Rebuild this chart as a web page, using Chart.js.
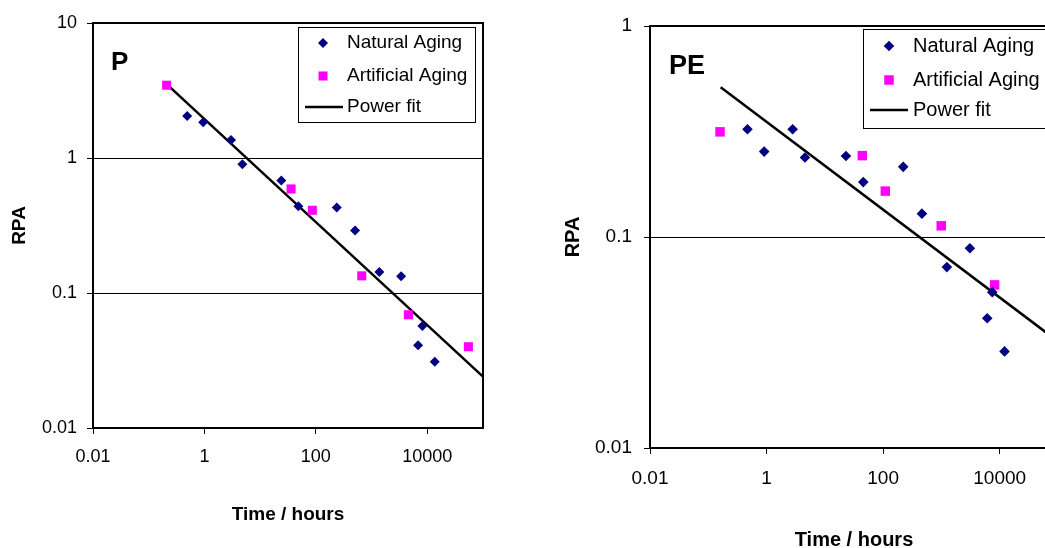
<!DOCTYPE html>
<html>
<head>
<meta charset="utf-8">
<script src="https://cdn.jsdelivr.net/npm/chart.js@4.4.1/dist/chart.umd.min.js"></script>
<style>
  html, body { margin: 0; padding: 0; background: #fff; overflow: hidden; width: 1045px; height: 548px; }
  #wrap { position: relative; width: 1045px; height: 548px; overflow: hidden; }
  #chartP { position: absolute; left: 0; top: 0; }
  #chartPE { position: absolute; left: 540px; top: 0; }
</style>
</head>
<body>
<div id="wrap">
  <canvas id="chartP" width="500" height="548"></canvas>
  <canvas id="chartPE" width="530" height="560"></canvas>
</div>
<script>
// shared axis ticks
const xTickValues = [0.01, 1, 100, 10000];
const pYTicks = [0.01, 0.1, 1, 10];
const peYTicks = [0.01, 0.1, 1];
const seriesLabels = ['Natural Aging', 'Artificial Aging', 'Power fit'];

// P panel (time in hours, RPA)
const pNaturalX = [0.49, 0.95, 3.0, 4.8, 24, 48.5, 237, 506, 1380, 3390, 8170, 6840, 13600];
const pNaturalY = [2.05, 1.84, 1.36, 0.90, 0.68, 0.44, 0.43, 0.29, 0.143, 0.133, 0.057, 0.041, 0.031];
const pArtificialX = [0.21, 35.9, 86.5, 667, 4580, 54700];
const pArtificialY = [3.46, 0.59, 0.41, 0.134, 0.069, 0.040];
const pFitX = [0.21, 100000];
const pFitY = [3.53, 0.024];

// PE panel
const peNaturalX = [0.47, 0.91, 2.8, 4.56, 23, 45.6, 221, 463, 1240, 3080, 7450, 6110, 12100];
const peNaturalY = [0.324, 0.254, 0.324, 0.238, 0.242, 0.182, 0.215, 0.129, 0.072, 0.0884, 0.0547, 0.0412, 0.0287];
const peArtificialX = [0.159, 43.9, 109, 993, 8170];
const peArtificialY = [0.315, 0.243, 0.165, 0.113, 0.0593];
const peFitX = [0.163, 100000];
const peFitY = [0.512, 0.032];

const FONT = '"Liberation Sans", Arial, sans-serif';
const NAVY = '#000080';
const MAGENTA = '#FF00FF';

function toPoints(xs, ys) {
    return xs.map((x, i) => ({ x: x, y: ys[i] }));
}

// frame, panel letter and boxed legend
const decor = {
    id: 'decor',
    afterDraw(chart, args, opts) {
        const ctx = chart.ctx;
        const a = chart.chartArea;
        ctx.save();
        ctx.strokeStyle = '#000';
        ctx.lineWidth = 2;
        ctx.strokeRect(a.left, a.top, a.right - a.left, a.bottom - a.top);

        ctx.fillStyle = '#000';
        ctx.font = 'bold ' + opts.letterSize + 'px ' + FONT;
        ctx.textBaseline = 'middle';
        ctx.textAlign = 'left';
        ctx.fillText(opts.letter, opts.letterX, opts.letterY);

        const lg = opts.legend;
        ctx.fillStyle = '#fff';
        ctx.fillRect(lg.x, lg.y, lg.w, lg.h);
        ctx.lineWidth = 1;
        ctx.strokeStyle = '#000';
        ctx.strokeRect(lg.x + 0.5, lg.y + 0.5, lg.w, lg.h);
        ctx.font = lg.fontSize + 'px ' + FONT;
        chart.data.datasets.forEach((ds, i) => {
            const cy = lg.rows[i];
            if (ds.showLine) {
                ctx.strokeStyle = ds.borderColor;
                ctx.lineWidth = ds.borderWidth;
                ctx.beginPath();
                ctx.moveTo(lg.lineX0, cy);
                ctx.lineTo(lg.lineX1, cy);
                ctx.stroke();
            } else {
                ctx.fillStyle = ds.backgroundColor;
                const r = ds.pointRadius;
                ctx.beginPath();
                if (ds.pointStyle === 'rectRot') {
                    ctx.moveTo(lg.markerX, cy - r);
                    ctx.lineTo(lg.markerX + r, cy);
                    ctx.lineTo(lg.markerX, cy + r);
                    ctx.lineTo(lg.markerX - r, cy);
                } else {
                    const s = r * Math.SQRT1_2;
                    ctx.rect(lg.markerX - s, cy - s, 2 * s, 2 * s);
                }
                ctx.closePath();
                ctx.fill();
            }
            ctx.fillStyle = '#000';
            ctx.fillText(ds.label, lg.textX, cy);
        });
        ctx.restore();
    }
};

function makeChart(id, d) {
    return new Chart(document.getElementById(id), {
        type: 'scatter',
        data: {
            datasets: [{
                label: seriesLabels[0],
                data: toPoints(d.natX, d.natY),
                pointStyle: 'rectRot',
                pointRadius: d.diamond,
                backgroundColor: NAVY,
                borderWidth: 0
            }, {
                label: seriesLabels[1],
                data: toPoints(d.artX, d.artY),
                pointStyle: 'rect',
                pointRadius: d.square,
                backgroundColor: MAGENTA,
                borderWidth: 0
            }, {
                label: seriesLabels[2],
                data: toPoints(d.fitX, d.fitY),
                showLine: true,
                pointRadius: 0,
                borderColor: '#000',
                borderWidth: 2.5,
                backgroundColor: '#000'
            }]
        },
        options: {
            responsive: false,
            animation: false,
            events: [],
            layout: { padding: d.padding },
            scales: {
                x: {
                    type: 'logarithmic',
                    min: 0.01,
                    max: 100000,
                    afterFit: (s) => { s.height = d.xHeight; },
                    afterBuildTicks: (s) => { s.ticks = xTickValues.map(v => ({ value: v })); },
                    ticks: {
                        color: '#000',
                        padding: d.xTickPad,
                        maxRotation: 0,
                        autoSkip: false,
                        font: { family: FONT, size: d.tickSize },
                        callback: (v) => String(v)
                    },
                    grid: { drawOnChartArea: false, color: '#000', tickLength: 6 },
                    border: { display: true, color: '#000', width: 2 },
                    title: {
                        display: true,
                        text: 'Time / hours',
                        color: '#000',
                        font: { family: FONT, size: d.titleSize, weight: 'bold' },
                        padding: { top: 0, bottom: d.xTitlePad }
                    }
                },
                y: {
                    type: 'logarithmic',
                    min: d.yTicks[0],
                    max: d.yTicks[d.yTicks.length - 1],
                    afterFit: (s) => { s.width = d.yWidth; },
                    afterBuildTicks: (s) => { s.ticks = d.yTicks.map(v => ({ value: v })); },
                    ticks: {
                        color: '#000',
                        padding: d.yTickPad,
                        autoSkip: false,
                        font: { family: FONT, size: d.tickSize },
                        callback: (v) => String(v)
                    },
                    grid: { color: '#000', lineWidth: 1, tickLength: 6 },
                    border: { display: true, color: '#000', width: 2 },
                    title: {
                        display: true,
                        text: 'RPA',
                        color: '#000',
                        font: { family: FONT, size: d.titleSize, weight: 'bold' },
                        padding: { top: d.yTitlePad, bottom: 0 }
                    }
                }
            },
            plugins: {
                legend: { display: false },
                tooltip: { enabled: false },
                decor: d.decor
            }
        },
        plugins: [decor]
    });
}

makeChart('chartP', {
    natX: pNaturalX, natY: pNaturalY,
    artX: pArtificialX, artY: pArtificialY,
    fitX: pFitX, fitY: pFitY,
    yTicks: pYTicks,
    diamond: 5, square: 6.4,
    padding: { top: 23, right: 17, left: 0, bottom: 0 },
    xHeight: 120, yWidth: 93,
    tickSize: 18, titleSize: 19,
    xTickPad: 12, yTickPad: 10,
    xTitlePad: 22, yTitlePad: 8,
    decor: {
        letter: 'P', letterSize: 26, letterX: 111, letterY: 63,
        legend: {
            x: 298, y: 27, w: 177, h: 95, fontSize: 19,
            rows: [43, 76, 107], markerX: 323, textX: 347, lineX0: 305, lineX1: 343
        }
    }
});

makeChart('chartPE', {
    natX: peNaturalX, natY: peNaturalY,
    artX: peArtificialX, artY: peArtificialY,
    fitX: peFitX, fitY: peFitY,
    yTicks: peYTicks,
    diamond: 5.3, square: 6.7,
    padding: { top: 26, right: 12, left: 0, bottom: 0 },
    xHeight: 112, yWidth: 110,
    tickSize: 19, titleSize: 20,
    xTickPad: 13, yTickPad: 12,
    xTitlePad: 8, yTitlePad: 21,
    decor: {
        letter: 'PE', letterSize: 27, letterX: 129, letterY: 67,
        legend: {
            x: 323, y: 29, w: 200, h: 99, fontSize: 20,
            rows: [46, 80, 110], markerX: 349, textX: 373, lineX0: 330, lineX1: 368
        }
    }
});
</script>
</body>
</html>
